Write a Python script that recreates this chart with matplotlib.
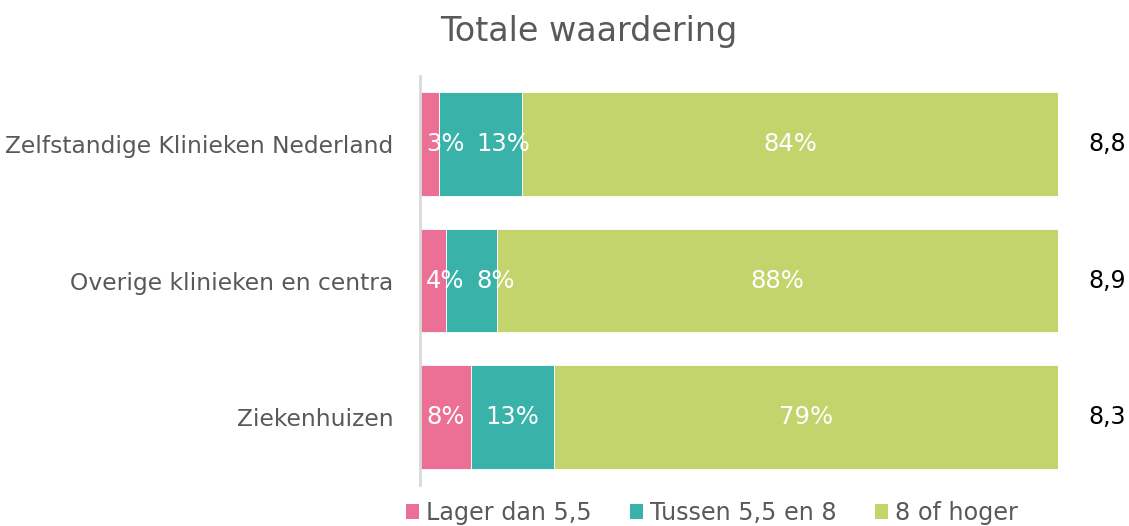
import matplotlib
matplotlib.use("Agg")
import matplotlib.pyplot as plt
from matplotlib.patches import Patch

plt.rcParams['font.family'] = ['DejaVu Sans']

categories = ["Zelfstandige Klinieken Nederland", "Overige klinieken en centra", "Ziekenhuizen"]
series_names = ["Lager dan 5,5", "Tussen 5,5 en 8", "8 of hoger"]
lager = [3, 4, 8]
tussen = [13, 8, 13]
hoger = [84, 88, 79]
scores = ["8,8", "8,9", "8,3"]
colors = ["#EC6F96", "#39B3AA", "#C3D46D"]
title = "Totale waardering"

W, H = 1129, 526
fig = plt.figure(figsize=(W / 100, H / 100), dpi=100)
ax = fig.add_axes([420 / W, 1 - 485 / H, (1058 - 420) / W, (485 - 76) / H])

ypos = list(range(len(categories)))
series = [lager, tussen, hoger]
lefts = [0] * len(categories)
for vals, col, name in zip(series, colors, series_names):
    ax.barh(ypos, vals, left=lefts, height=0.76, color=col, edgecolor="white",
            linewidth=0.6, label=name)
    lefts = [l + v for l, v in zip(lefts, vals)]

ax.set_xlim(0, 100)
ax.set_ylim(len(categories) - 0.5, -0.5)
ax.set_yticks(ypos)
ax.set_yticklabels(categories, fontsize=16.8, color="#595959")
ax.tick_params(axis="y", length=0, pad=19)
ax.set_xticks([])
for s in ["top", "right", "bottom"]:
    ax.spines[s].set_visible(False)
ax.spines["left"].set_color("#D9D9D9")
ax.spines["left"].set_linewidth(2)

# data labels with simple overlap avoidance
fig.canvas.draw()
renderer = fig.canvas.get_renderer()
inv = ax.transData.inverted()
gap_px = 12
for i in ypos:
    start = 0
    prev_right_px = ax.transData.transform((0, 0))[0] - 6
    for vals in series:
        v = vals[i]
        center = start + v / 2
        t = ax.text(center, i, f"{v}%", ha="center", va="center", color="white",
                    fontsize=17.5)
        bb = t.get_window_extent(renderer)
        wpx = bb.width
        cx_px = ax.transData.transform((center, i))[0]
        min_left = prev_right_px + gap_px
        if cx_px - wpx / 2 < min_left:
            cx_px = min_left + wpx / 2
            t.set_x(inv.transform((cx_px, 0))[0])
        prev_right_px = cx_px + wpx / 2
        start += v

for i, s in enumerate(scores):
    ax.text(107.7, i, s, ha="center", va="center", fontsize=17, color="black",
            clip_on=False)

fig.text(589 / W, 1 - 32 / H, title, ha="center", va="center", fontsize=24,
         color="#595959")

handles = [Patch(facecolor=c, edgecolor="none") for c in colors]
fig.legend(handles, series_names, loc="center", bbox_to_anchor=(712 / W, 1 - 513 / H),
           ncol=3, frameon=False, fontsize=17.2, labelcolor="#595959",
           handlelength=0.55, handleheight=0.55, handletextpad=0.3, columnspacing=1.6,
           borderpad=0)

fig.savefig("out.png", dpi=100)
